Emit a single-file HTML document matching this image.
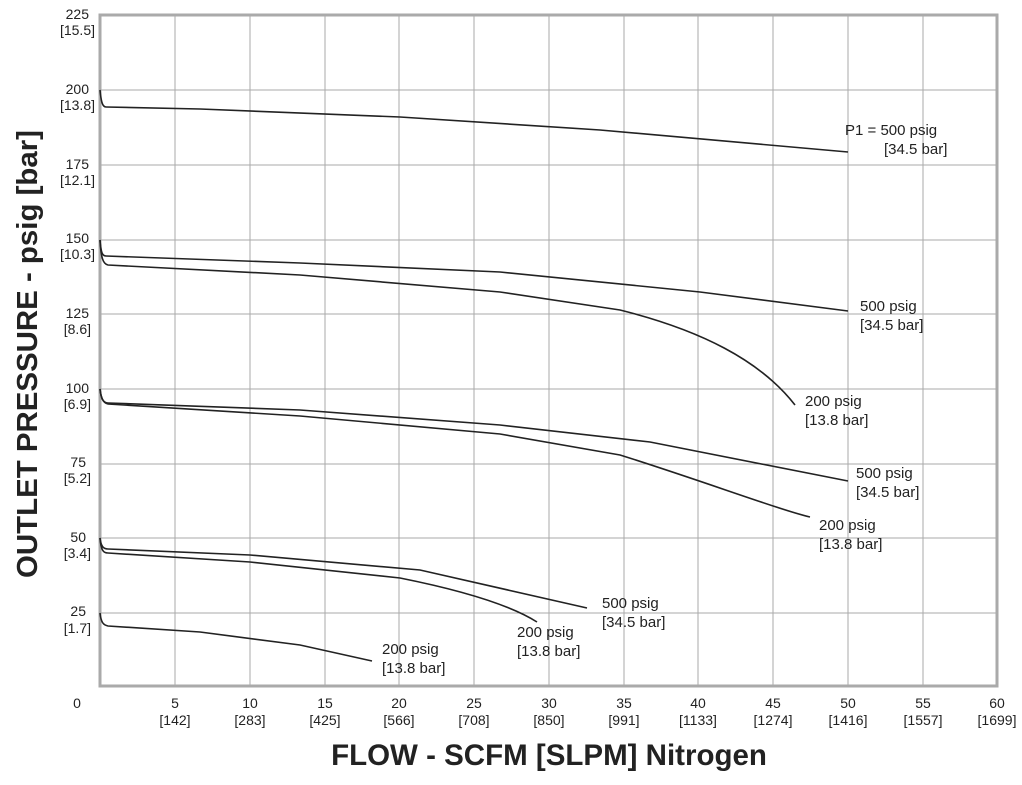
<!DOCTYPE html>
<html><head><style>
body{margin:0;background:#fff}
svg text{font-family:"Liberation Sans",Arial,sans-serif;fill:#222}
</style></head><body>
<svg width="1022" height="780" viewBox="0 0 1022 780" xmlns="http://www.w3.org/2000/svg">
<g stroke="#aaa" stroke-width="1">
<line x1="175" y1="15" x2="175" y2="686"/><line x1="250" y1="15" x2="250" y2="686"/><line x1="325" y1="15" x2="325" y2="686"/><line x1="399" y1="15" x2="399" y2="686"/><line x1="474" y1="15" x2="474" y2="686"/><line x1="549" y1="15" x2="549" y2="686"/><line x1="624" y1="15" x2="624" y2="686"/><line x1="698" y1="15" x2="698" y2="686"/><line x1="773" y1="15" x2="773" y2="686"/><line x1="848" y1="15" x2="848" y2="686"/><line x1="923" y1="15" x2="923" y2="686"/>
<line x1="100" y1="90" x2="997" y2="90"/><line x1="100" y1="165" x2="997" y2="165"/><line x1="100" y1="240" x2="997" y2="240"/><line x1="100" y1="314" x2="997" y2="314"/><line x1="100" y1="389" x2="997" y2="389"/><line x1="100" y1="464" x2="997" y2="464"/><line x1="100" y1="538" x2="997" y2="538"/><line x1="100" y1="613" x2="997" y2="613"/>
</g>
<rect x="100" y="15" width="897" height="671" fill="none" stroke="#aaa" stroke-width="3"/>
<g fill="none" stroke="#222" stroke-width="1.6">
<path d="M100,90 C101,100 102,107 106,107 L200,109 L400,117 L600,130 L848,152"/>
<path d="M100,240 C101,252 102,256 106,256 L300,263 L500,272 L700,292 L848,311"/>
<path d="M100,240 C101,258 103,264 108,265 L300,275 L500,292 L620,310 C700,330 760,360 795,405"/>
<path d="M100,389 C101,398 103,403 108,403 L300,410 L500,425 L650,442 L848,481"/>
<path d="M100,389 C101,398 103,403 108,404 L300,416 L500,434 L620,455 C700,480 780,510 810,517"/>
<path d="M100,538 C101,546 103,549 108,549 L250,555 L420,570 L587,608"/>
<path d="M100,538 C101,550 103,553 108,553 L250,562 L400,578 C460,590 510,605 537,622"/>
<path d="M100,613 C101,622 103,625 108,626 L200,632 L300,645 L372,661"/>
</g>
<g font-size="14" text-anchor="end">
<text x="89" y="19">225</text><text x="95" y="35">[15.5]</text>
<text x="89" y="94">200</text><text x="95" y="110">[13.8]</text>
<text x="89" y="169">175</text><text x="95" y="185">[12.1]</text>
<text x="89" y="243">150</text><text x="95" y="259">[10.3]</text>
<text x="89" y="318">125</text><text x="91" y="334">[8.6]</text>
<text x="89" y="393">100</text><text x="91" y="409">[6.9]</text>
<text x="86" y="467">75</text><text x="91" y="483">[5.2]</text>
<text x="86" y="542">50</text><text x="91" y="558">[3.4]</text>
<text x="86" y="616">25</text><text x="91" y="633">[1.7]</text>
</g>
<g font-size="14" text-anchor="middle">
<text x="77" y="708">0</text>
<text x="175" y="708">5</text><text x="175" y="725">[142]</text>
<text x="250" y="708">10</text><text x="250" y="725">[283]</text>
<text x="325" y="708">15</text><text x="325" y="725">[425]</text>
<text x="399" y="708">20</text><text x="399" y="725">[566]</text>
<text x="474" y="708">25</text><text x="474" y="725">[708]</text>
<text x="549" y="708">30</text><text x="549" y="725">[850]</text>
<text x="624" y="708">35</text><text x="624" y="725">[991]</text>
<text x="698" y="708">40</text><text x="698" y="725">[1133]</text>
<text x="773" y="708">45</text><text x="773" y="725">[1274]</text>
<text x="848" y="708">50</text><text x="848" y="725">[1416]</text>
<text x="923" y="708">55</text><text x="923" y="725">[1557]</text>
<text x="997" y="708">60</text><text x="997" y="725">[1699]</text>
</g>
<g font-size="15">
<text x="845" y="135">P1 = 500 psig</text><text x="884" y="154">[34.5 bar]</text>
<text x="860" y="311">500 psig</text><text x="860" y="330">[34.5 bar]</text>
<text x="805" y="406">200 psig</text><text x="805" y="425">[13.8 bar]</text>
<text x="856" y="478">500 psig</text><text x="856" y="497">[34.5 bar]</text>
<text x="819" y="530">200 psig</text><text x="819" y="549">[13.8 bar]</text>
<text x="602" y="608">500 psig</text><text x="602" y="627">[34.5 bar]</text>
<text x="517" y="637">200 psig</text><text x="517" y="656">[13.8 bar]</text>
<text x="382" y="654">200 psig</text><text x="382" y="673">[13.8 bar]</text>
</g>
<text x="549" y="765" font-size="29.5" font-weight="bold" text-anchor="middle" style="fill:#222">FLOW - SCFM [SLPM] Nitrogen</text>
<text transform="translate(37,354) rotate(-90)" font-size="29" font-weight="bold" text-anchor="middle" textLength="448" lengthAdjust="spacingAndGlyphs" style="fill:#222">OUTLET PRESSURE - psig [bar]</text>
</svg>
</body></html>
